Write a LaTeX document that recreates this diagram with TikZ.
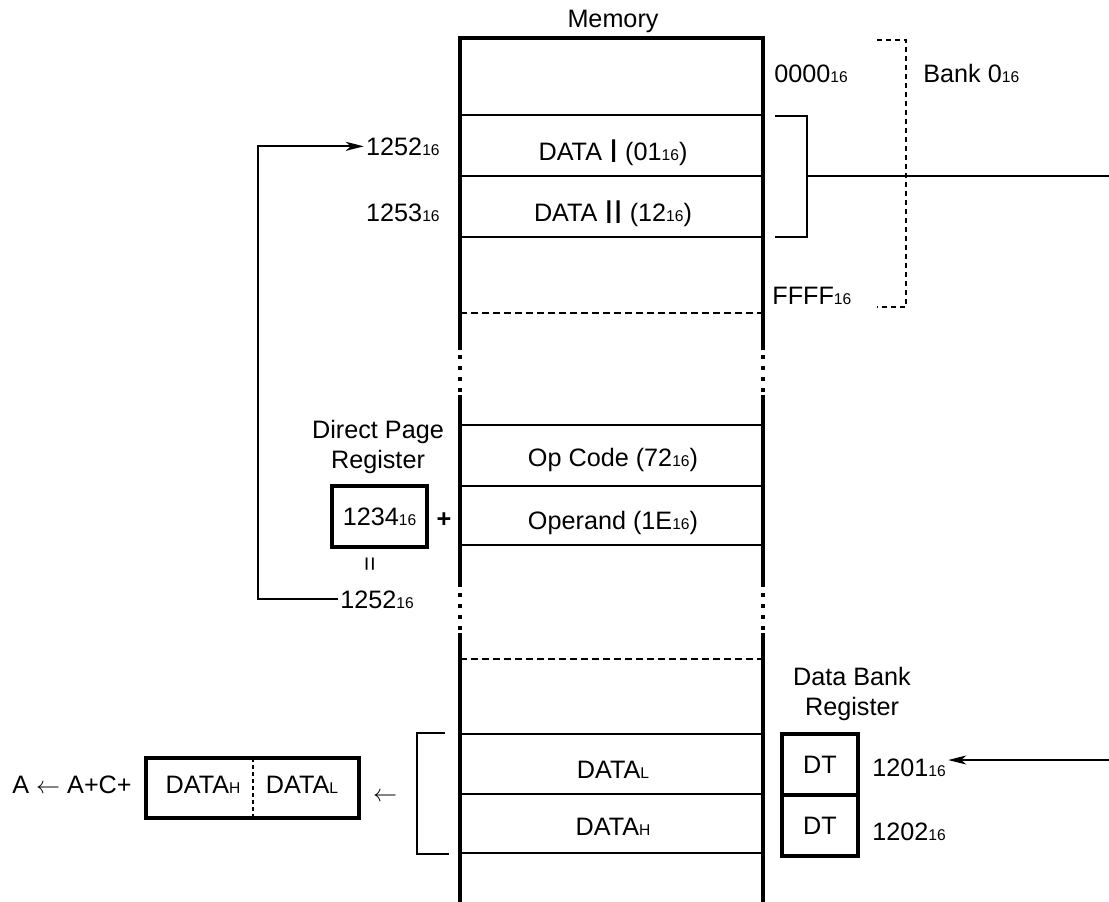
\documentclass[tikz,border=0pt]{standalone}
\usepackage{fontspec}
\setmainfont{Liberation Sans}
\usepackage{tikz}
\usetikzlibrary{
    arrows.meta,
    positioning
}
\newcommand\subsz[1]{{\fontsize{7.8}{9}\selectfont #1}}
\newcommand\romnum[1]{\raisebox{-1pt}{\fontsize{16.5}{16}\selectfont #1}}
\tikzset{
    mem/.style={line width=2pt},
    row/.style={line width=1pt},
    gap/.style={line width=2pt, dash pattern=on 2pt off 3.5pt},
    sep/.style={line width=0.9pt, dash pattern=on 3.5pt off 2pt},
    bank/.style={line width=0.75pt, dash pattern=on 2.5pt off 2pt},
    reg/.style={draw, line width=1.7pt, inner sep=0pt, outer sep=0pt}
}

\begin{document}
\begin{tikzpicture}[x=0.5pt, y=-0.5pt, font=\fontsize{12.6}{15}\selectfont, inner sep=1pt,
        >={Stealth[length=9pt,width=4.5pt,inset=2.5pt]}]
        \useasboundingbox (0,0) rectangle (1109,901);

        % memory column
        \draw[mem] (460,350) -- (460,38) -- (763,38) -- (763,350);
        \foreach \x in {460,763} {
            \draw[mem] (\x,395) -- (\x,587) (\x,633) -- (\x,905);
            \draw[gap] (\x,355) -- (\x,395) (\x,593) -- (\x,633);
        }
        \foreach \y in {115,176,237,425,486,545,734,794,853}
            \draw[row] (460,\y) -- (763,\y);
        \foreach \y in {313,659}
            \draw[sep] (460,\y) -- (763,\y);

        \draw (613,27) node[anchor=base](mem){Memory};
        \draw (772,82) node[anchor=base west](lo){0000\subsz{16}};
        \draw (770,304) node[anchor=base west](hi){FFFF\subsz{16}};
        \draw (921,82) node[anchor=base west](bank){Bank 0\subsz{16}};
        \draw[bank] (877,40) -- (906,40) -- (906,307) -- (877,307);

        \draw (613,160) node[anchor=base](d1){DATA \romnum{I} (01\subsz{16})};
        \draw (613,221) node[anchor=base](d2){DATA \romnum{II} (12\subsz{16})};
        \draw (442,155) node[anchor=base east](ptop){1252\subsz{16}};
        \draw (442,221) node[anchor=base east](pnext){1253\subsz{16}};
        \draw[row] (775,116) -- (807,116) -- (807,237) -- (775,237);
        \coordinate (brk) at (807,176);
        \coordinate (out) at (1109,176);
        \draw[row] (brk) -- (out);

        % direct page
        \draw (613,466) node[anchor=base](op){Op Code (72\subsz{16})};
        \draw (613,529) node[anchor=base](opd){Operand (1E\subsz{16})};
        \draw (378,447) node[align=center](dplbl){Direct Page\\Register};
        \node[reg, minimum width=47.5pt, minimum height=30.5pt] (dpr) at (379.5,516.5) {1234\subsz{16}};
        \draw (444,520) node(plus){\textbf{+}};
        \draw (372,564) node[rotate=90](eq){=};
        \draw (338,608) node[anchor=base west](pbot){1252\subsz{16}};
        \coordinate (turn) at (258,300);
        \draw[row,->] (pbot.west) -| (turn) |- (ptop.west);

        % data bank
        \draw (852,694) node[align=center](dblbl){Data Bank\\Register};
        \node[reg, minimum width=38pt, minimum height=30.5pt] (dt1) at (820,764.5) {DT};
        \node[reg, minimum width=38pt, minimum height=30.5pt, below=0pt of dt1] (dt2) {DT};
        \draw (870,776) node[anchor=base west](a1201){1201\subsz{16}};
        \draw (870,840) node[anchor=base west](a1202){1202\subsz{16}};
        \coordinate (dbin) at (1109,760);
        \draw[row,->] (dbin) -- (dbin -| a1201.east);

        \draw (613,778) node[anchor=base](ml){DATA\subsz{L}};
        \draw (613,835) node[anchor=base](mh){DATA\subsz{H}};
        \draw[row] (445,733) -- (417,733) -- (417,854) -- (449,854);
        \draw (385,797) node(larr){$\leftarrow$};
        \node[reg, minimum width=106.5pt, minimum height=30pt] (acc) at (252.5,788) {};
        \draw[line width=1pt, dash pattern=on 2pt off 1.5pt] (acc.north) -- (acc.south);
        \draw (203,793) node[anchor=base](dh){DATA\subsz{H}};
        \draw (302,793) node[anchor=base](dl){DATA\subsz{L}};
        \draw (10,793) node[anchor=base west](sum){A $\leftarrow$ A+C+};
\end{tikzpicture}
\end{document}
